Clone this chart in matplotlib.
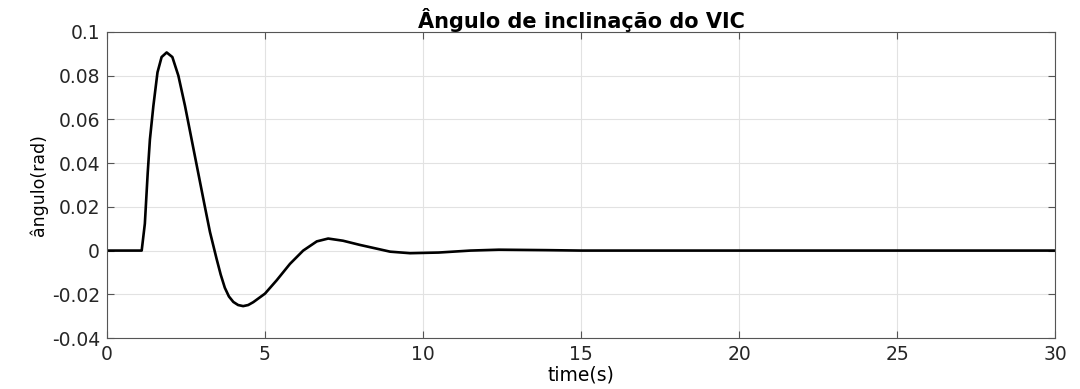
import matplotlib
matplotlib.use('Agg')
from matplotlib import pyplot as plt

# inclination angle response of the VIC (rad) sampled over time (s)
t = [0.0, 1.10, 1.20, 1.29, 1.36, 1.47, 1.60, 1.73, 1.89, 2.07, 2.26, 2.47,
     2.68, 2.89, 3.10, 3.26, 3.47, 3.60, 3.73, 3.86, 4.00, 4.15, 4.31, 4.47,
     4.63, 5.00, 5.37, 5.79, 6.21, 6.64, 7.00, 7.47, 8.00, 8.96, 9.59, 10.5,
     11.5, 12.4, 13.9, 15.0, 30.0]
angle = [0.0, 0.0, 0.0123, 0.0354, 0.0508, 0.0662, 0.0815, 0.0885, 0.0906,
         0.0885, 0.0800, 0.0662, 0.0508, 0.0354, 0.0200, 0.0085, -0.0038,
         -0.0110, -0.0170, -0.0210, -0.0235, -0.0249, -0.0254, -0.0249,
         -0.0236, -0.0197, -0.0136, -0.0061, 0.0, 0.0042, 0.0055, 0.0045,
         0.0026, -0.0005, -0.0012, -0.0009, 0.0, 0.0004, 0.0002, 0.0, 0.0]

xticks = [0, 5, 10, 15, 20, 25, 30]
yticks = [-0.04, -0.02, 0, 0.02, 0.04, 0.06, 0.08, 0.1]
ytick_labels = ['-0.04', '-0.02', '0', '0.02', '0.04', '0.06', '0.08', '0.1']

plt.rcParams['font.family'] = ['DejaVu Sans']

fig = plt.figure(figsize=(10.8, 3.89), dpi=100)
ax = fig.add_axes([0.099, 0.131, 0.878, 0.787])

ax.plot(t, angle, color='k', linewidth=1.9, solid_joinstyle='round')

ax.set_xlim(0, 30)
ax.set_ylim(-0.04, 0.1)
ax.set_xticks(xticks)
ax.set_yticks(yticks)
ax.set_yticklabels(ytick_labels)
ax.grid(True, color='#e2e2e2', linewidth=0.8)
ax.set_axisbelow(True)

for s in ax.spines.values():
    s.set_color('#555555')
    s.set_linewidth(0.8)
ax.tick_params(direction='in', length=5, width=0.8, color='#555555',
               labelsize=13.5, labelcolor='#262626', top=True, right=True, pad=5)

ax.set_title('Ângulo de inclinação do VIC', fontsize=15, fontweight='bold', pad=3)
ax.set_xlabel('time(s)', fontsize=13.5, labelpad=1)
ax.set_ylabel('ângulo(rad)', fontsize=12.5, labelpad=3)

fig.savefig('out.png', dpi=100)
